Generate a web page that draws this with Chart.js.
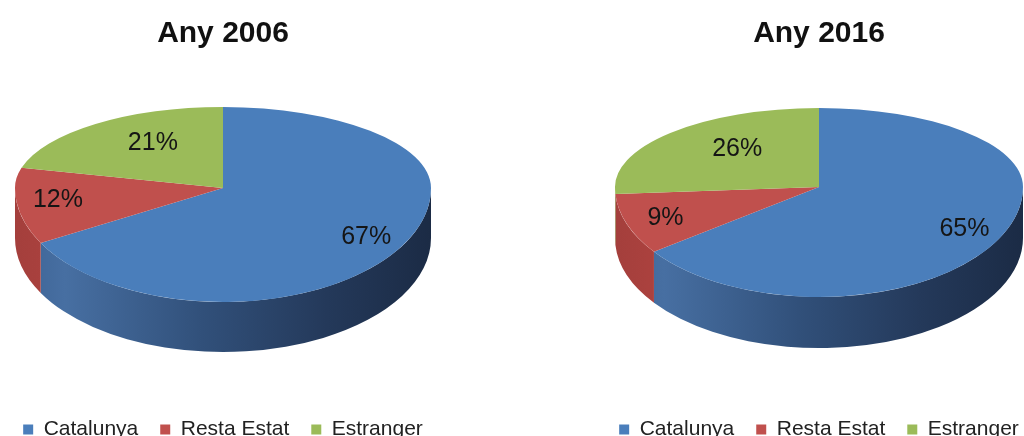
<!DOCTYPE html>
<html>
<head>
<meta charset="utf-8">
<script src="https://cdn.jsdelivr.net/npm/chart.js@4"></script>
<style>
  html, body { margin: 0; padding: 0; background: #fff; width: 1024px; height: 436px; overflow: hidden; position: relative; }
  canvas { position: absolute; top: 0; }
  #chart2006 { left: -7px; }
  #chart2016 { left: 589px; }
</style>
</head>
<body>
<canvas id="chart2006" width="460" height="450"></canvas>
<canvas id="chart2016" width="460" height="450"></canvas>
<script>
// ===== Data =====
const categories = ["Catalunya", "Resta Estat", "Estranger"];
const values2006 = [67, 12, 21];
const values2016 = [65, 9, 26];

// ===== Colours =====
const topColors = ["#4a7ebb", "#c0504d", "#9bbb59"];
const wallStops = [
  [[0, "#3d6394"], [0.12, "#476fa2"], [0.45, "#31507a"], [0.75, "#24395a"], [1, "#1b2b45"]],
  [[0, "#a43f3c"], [0.12, "#ad423f"], [0.45, "#86302e"], [1, "#5c201f"]],
  [[0, "#7d9a47"], [0.5, "#5f7636"], [1, "#43542a"]]
];
const FONT = "Arial, 'Liberation Sans', Helvetica, sans-serif";

// ===== 3D pie plugin =====
// squeezes the library's arcs into an ellipse (flatter at the back) and adds a side wall
const pie3d = {
  id: "pie3d",
  beforeDatasetsDraw(chart, args, opts) {
    const ctx = chart.ctx;
    const meta = chart.getDatasetMeta(0);
    const { cx, cy, rx, ryTop, ryBottom, depth } = opts;

    // front wall (angles 0..PI face the viewer)
    meta.data.forEach((arc, i) => {
      const s = Math.max(arc.startAngle, 0);
      const e = Math.min(arc.endAngle, Math.PI);
      if (e <= s) return;
      const g = ctx.createLinearGradient(cx - rx, 0, cx + rx, 0);
      wallStops[i].forEach(([o, c]) => g.addColorStop(o, c));
      ctx.save();
      ctx.beginPath();
      ctx.ellipse(cx, cy, rx, ryBottom, 0, s, e);
      ctx.ellipse(cx, cy + depth, rx, ryBottom, 0, e, s, true);
      ctx.closePath();
      ctx.fillStyle = g;
      ctx.fill();
      ctx.restore();
    });

    // top face, back half and front half with their own squeeze
    const halves = [
      { ry: ryTop, clip: [0, 0, chart.width, cy] },
      { ry: ryBottom, clip: [0, cy, chart.width, chart.height - cy] }
    ];
    halves.forEach(h => {
      ctx.save();
      ctx.beginPath();
      ctx.rect(...h.clip);
      ctx.clip();
      meta.data.forEach(arc => {
        const R = arc.outerRadius;
        ctx.save();
        ctx.translate(cx, cy);
        ctx.scale(rx / R, h.ry / R);
        ctx.translate(-arc.x, -arc.y);
        arc.draw(ctx);
        ctx.restore();
      });
      ctx.restore();
    });
    return false;
  },
  // percentage labels on the top face (back ones pulled in for perspective)
  afterDraw(chart, args, opts) {
    const ctx = chart.ctx;
    const meta = chart.getDatasetMeta(0);
    const values = chart.data.datasets[0].data;
    const { cx, cy, rx, ryTop, ryBottom } = opts;
    ctx.save();
    ctx.font = "25px " + FONT;
    ctx.fillStyle = "#151515";
    ctx.textAlign = "center";
    ctx.textBaseline = "middle";
    meta.data.forEach((arc, i) => {
      const mid = (arc.startAngle + arc.endAngle) / 2;
      const back = Math.sin(mid) < 0;
      const fx = back ? 0.55 : 0.8;
      const fy = back ? 0.7 : 0.84;
      const x = cx + fx * rx * Math.cos(mid);
      const y = cy + fy * (back ? ryTop : ryBottom) * Math.sin(mid);
      ctx.fillText(values[i] + "%", x, y);
    });
    ctx.restore();
  }
};

// ===== Charts =====
function createPie(canvas, title, values, geom) {
  return new Chart(canvas, {
    type: "pie",
    data: {
      labels: categories,
      datasets: [{
        data: values,
        backgroundColor: topColors,
        borderWidth: 0
      }]
    },
    options: {
      responsive: false,
      animation: false,
      events: [],
      plugins: {
        title: {
          display: true,
          text: title,
          color: "#111",
          font: { family: FONT, size: 30, weight: "bold" },
          padding: { top: 16, bottom: 10 }
        },
        legend: {
          position: "bottom",
          labels: {
            color: "#222",
            font: { family: FONT, size: 21 },
            boxWidth: 10,
            boxHeight: 10,
            padding: 22
          }
        },
        tooltip: { enabled: false },
        pie3d: geom
      }
    },
    plugins: [pie3d]
  });
}

createPie(document.getElementById("chart2006"), "Any 2006", values2006,
  { cx: 230, cy: 188, rx: 208, ryTop: 81, ryBottom: 114, depth: 50 });

createPie(document.getElementById("chart2016"), "Any 2016", values2016,
  { cx: 230, cy: 187, rx: 204, ryTop: 79, ryBottom: 110, depth: 51 });
</script>
</body>
</html>
